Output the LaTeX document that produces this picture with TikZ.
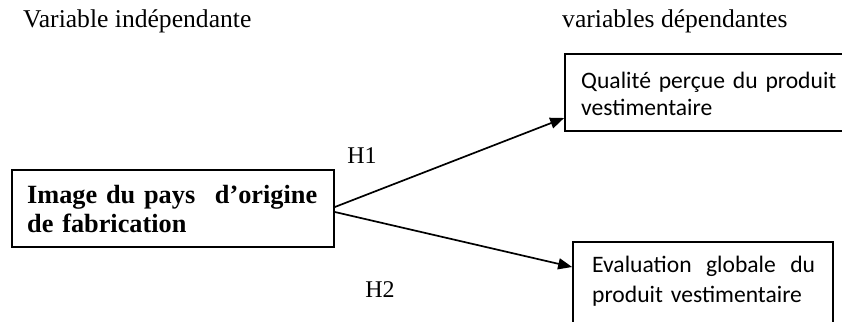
\documentclass[tikz,border=0pt]{standalone}
\usepackage{fontspec}
\setmainfont{Liberation Serif}
\newfontfamily\calib{Carlito}
\usetikzlibrary{arrows.meta,calc}
\begin{document}
\begin{tikzpicture}[x=1pt,y=-1pt,
  box/.style={draw,rectangle,line width=1.7pt,inner sep=0pt},
  arr/.style={line width=1.7pt,-{Triangle[length=14pt,width=11pt]}},
  lbl/.style={inner sep=0pt,anchor=base west},
  serifbig/.style={font=\fontsize{25.6}{30}\selectfont},
  boldtxt/.style={font=\bfseries\fontsize{26.3}{29}\selectfont},
  caltxt/.style={font=\calib\fontsize{23.6}{27}\selectfont}]
\useasboundingbox (0,0) rectangle (842,321);
\clip (0,0) rectangle (842,321);
% boxes
\node[box,minimum width=322pt,minimum height=77pt] (iv) at (173,208.5) {};
\node[box,minimum width=285pt,minimum height=77pt] (dv1) at (707.5,92.5) {};
\node[box,minimum width=260pt,minimum height=88pt] (dv2) at (703,286) {};
% titles
\node[lbl,serifbig] (t1) at (23,28) {Variable indépendante};
\node[lbl,serifbig] (t2) at (562,28) {variables dépendantes};
% box texts
\node[lbl,boldtxt,text width=290pt,align=left] (ivt) at (27,203) {Image du pays\hfill d’origine\\de fabrication};
\node[lbl,caltxt,text width=320pt,align=left] (dv1t) at (581,88) {Qualité perçue du produit\\vestimentaire};
\node[lbl,caltxt,text width=223pt,align=left] (dv2t) at (592,272) {Evaluation\hfill globale\hfill du\\[3pt]produit vestimentaire};
% arrows
\coordinate (s1) at ($(iv.east)+(0,-1.5)$);
\coordinate (s2) at ($(iv.east)+(0,3.5)$);
\coordinate (e1) at ($(dv1.west)+(0,25.5)$);
\coordinate (e2) at ($(dv2.west)+(0,-19)$);
\draw[arr] (s1) -- (e1);
\draw[arr] (s2) -- (e2);
% hypothesis labels
\node[inner sep=0pt,anchor=base,font=\fontsize{24}{28}\selectfont] (h1) at (362,163) {H1};
\node[inner sep=0pt,anchor=base,font=\fontsize{24}{28}\selectfont] (h2) at (380,297) {H2};
\end{tikzpicture}
\end{document}
